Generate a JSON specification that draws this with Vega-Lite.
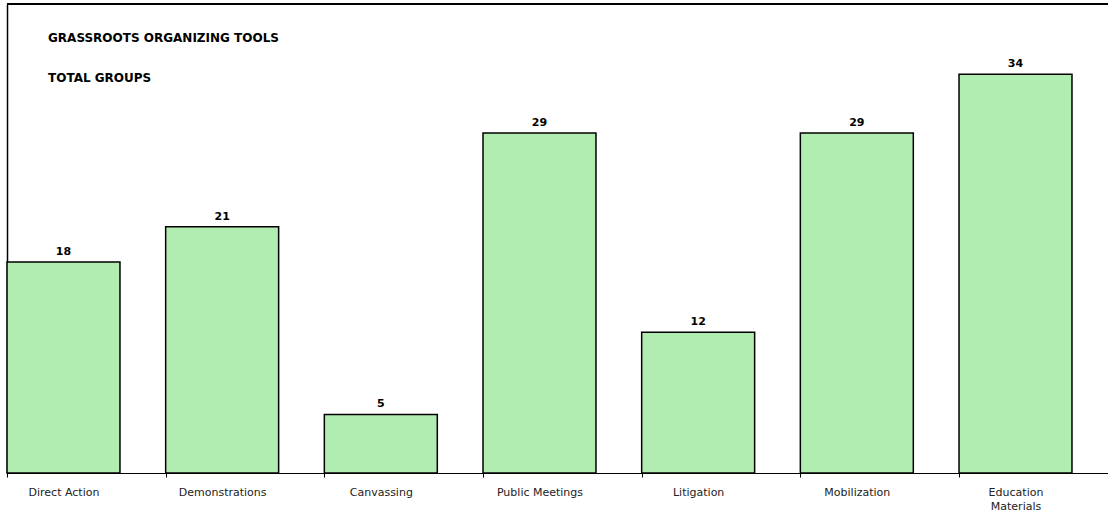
{
  "$schema": "https://vega.github.io/schema/vega-lite/v6.json",
  "width": 1101,
  "height": 469,
  "autosize": {"type": "none"},
  "padding": {"left": 7, "top": 4, "right": 0, "bottom": 41},
  "background": "white",
  "config": {"view": {"stroke": null}, "font": "DejaVu Sans"},
  "title": {
    "text": "GRASSROOTS ORGANIZING TOOLS",
    "subtitle": "TOTAL GROUPS",
    "anchor": "start",
    "frame": "group",
    "orient": "top",
    "offset": -82,
    "dx": 41,
    "fontSize": 12,
    "fontWeight": "bold",
    "color": "black",
    "subtitleFontSize": 12,
    "subtitleFontWeight": "bold",
    "subtitleColor": "black",
    "subtitlePadding": 28
  },
  "data": {
    "values": [
      {"tool": "Direct Action", "groups": 18},
      {"tool": "Demonstrations", "groups": 21},
      {"tool": "Canvassing", "groups": 5},
      {"tool": "Public Meetings", "groups": 29},
      {"tool": "Litigation", "groups": 12},
      {"tool": "Mobilization", "groups": 29},
      {"tool": "Education Materials", "groups": 34}
    ]
  },
  "encoding": {
    "x": {
      "field": "tool",
      "type": "nominal",
      "sort": null,
      "scale": {"paddingInner": 0.288, "paddingOuter": 0.1135, "align": 0},
      "axis": {
        "title": null,
        "labelAngle": 0,
        "tickOffset": -56.5,
        "labelOffset": 56.5,
        "tickSize": 4,
        "tickColor": "black",
        "domainColor": "black",
        "labelPadding": 9,
        "labelFontSize": 11,
        "labelColor": "#222222",
        "labelLineHeight": 14,
        "labelExpr": "datum.value == 'Education Materials' ? ['Education', 'Materials'] : datum.value"
      }
    },
    "y": {
      "field": "groups",
      "type": "quantitative",
      "scale": {"domain": [0, 40], "nice": false},
      "axis": {"title": null, "labels": false, "ticks": false, "grid": false, "domainColor": "black", "domainWidth": 1.5}
    }
  },
  "layer": [
    {"mark": {"type": "bar", "fill": "#b1ecb1", "stroke": "black", "strokeWidth": 1.5}},
    {"mark": {"type": "text", "dy": -5, "baseline": "bottom", "fontWeight": "bold", "fontSize": 11, "color": "black"}, "encoding": {"text": {"field": "groups", "type": "quantitative"}}},
    {"mark": {"type": "rule", "color": "black", "strokeWidth": 1.5}, "encoding": {"y": {"datum": 40}, "x": null}}
  ]
}
